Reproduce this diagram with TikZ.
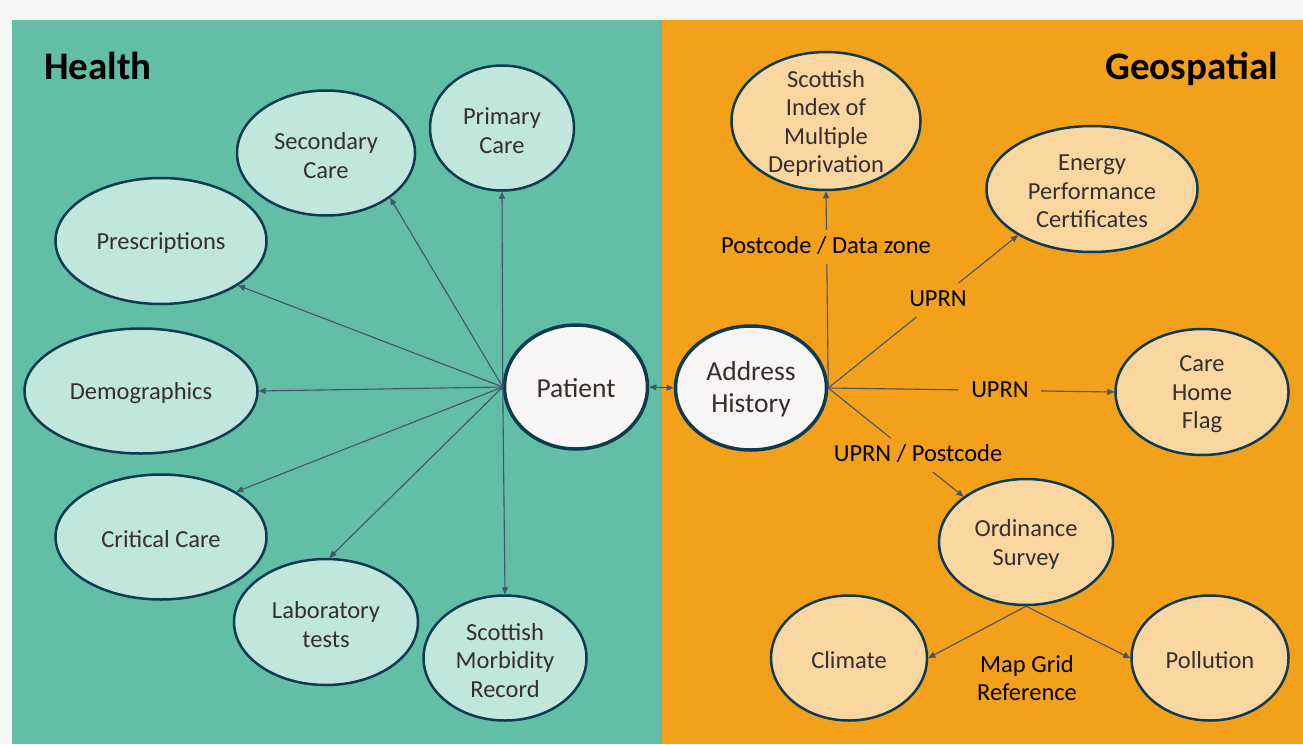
\documentclass[tikz,border=0pt]{standalone}
\usepackage{fontspec}
\setmainfont{Carlito}
\usetikzlibrary{shapes.geometric,arrows.meta}
\definecolor{bgstrip}{HTML}{F7F6F4}
\definecolor{hteal}{HTML}{62BEA5}
\definecolor{gorange}{HTML}{F3A01A}
\definecolor{lteal}{HTML}{C1E6DC}
\definecolor{lorange}{HTML}{FAD7A0}
\definecolor{bord}{HTML}{0E3B50}
\definecolor{pfill}{HTML}{F8F6F4}
\definecolor{edgec}{HTML}{44546A}
\definecolor{ntext}{HTML}{352E2E}
\begin{document}
\begin{tikzpicture}[x=1pt,y=-1pt,
  txt/.style={align=center,text=ntext,yshift=-2.5pt,font=\fontsize{24.5}{28.5}\selectfont},
  bigtxt/.style={align=center,text=ntext,yshift=-1.5pt,font=\fontsize{27.5}{32}\selectfont},
  leafG/.style={ellipse,draw=bord,line width=2.5pt,fill=lteal,inner sep=0pt},
  leafO/.style={ellipse,draw=bord,line width=2.5pt,fill=lorange,inner sep=0pt},
  hub/.style={ellipse,draw=bord,line width=3.5pt,fill=pfill,inner sep=0pt},
  arr/.style={draw=edgec,line width=1.1pt,-{Triangle[length=7pt,width=6pt]}},
  lbl/.style={fill=gorange,text=black,inner xsep=12pt,inner ysep=7pt,text height=16pt,text depth=4pt,font=\fontsize{24.5}{28.5}\selectfont},
  title/.style={font=\fontsize{39}{44}\selectfont\bfseries,text=black,inner sep=0pt}]
\useasboundingbox (0,0) rectangle (1303,744);
\fill[bgstrip] (0,0) rectangle (1303,744);
\fill[hteal] (12,20) rectangle (662,744);
\fill[gorange] (662,20) rectangle (1303,744);

\node[title,anchor=base west] (th) at (44,79) {Health};
\node[title,anchor=base east] (tg) at (1278,79) {Geospatial};

% health side
\node[leafG,minimum width=144pt,minimum height=125pt,label={[txt]center:{Primary\\Care}}] (pri) at (502,128) {};
\node[leafG,minimum width=178pt,minimum height=125pt,label={[txt]center:{Secondary\\Care}}] (sec) at (326,153) {};
\node[leafG,minimum width=211pt,minimum height=126pt,label={[txt]center:{Prescriptions}}] (pres) at (161,241) {};
\node[leafG,minimum width=233pt,minimum height=125pt,label={[txt]center:{Demographics}}] (demo) at (141,391) {};
\node[leafG,minimum width=211pt,minimum height=125pt,label={[txt]center:{Critical Care}}] (crit) at (161,537) {};
\node[leafG,minimum width=184pt,minimum height=126pt,label={[txt]center:{Laboratory\\tests}}] (lab) at (326,622) {};
\node[leafG,minimum width=163pt,minimum height=125pt,label={[txt]center:{Scottish\\Morbidity\\Record}}] (smr) at (505,658) {};

\node[hub,minimum width=143pt,minimum height=124pt,label={[bigtxt]center:{Patient}}] (pat) at (576,387) {};
\node[hub,minimum width=151pt,minimum height=124pt,label={[bigtxt]center:{Address\\History}}] (ah) at (751,388) {};

% geospatial side
\node[leafO,minimum width=189pt,minimum height=138pt,label={[txt]center:{Scottish\\Index of\\Multiple\\Deprivation}}] (simd) at (826,121) {};
\node[leafO,minimum width=211pt,minimum height=126pt,label={[txt]center:{Energy\\Performance\\Certificates}}] (epc) at (1092,189) {};
\node[leafO,minimum width=173pt,minimum height=126pt,label={[txt]center:{Care\\Home\\Flag}}] (chf) at (1202,392) {};
\node[leafO,minimum width=174pt,minimum height=126pt,label={[txt]center:{Ordinance\\Survey}}] (os) at (1026,542) {};
\node[leafO,minimum width=156pt,minimum height=125pt,label={[txt]center:{Climate}}] (clim) at (849,658) {};
\node[leafO,minimum width=157pt,minimum height=125pt,label={[txt]center:{Pollution}}] (poll) at (1210,658) {};

% edges health
\draw[arr] (pat.west) -- (pri.south);
\draw[arr] (pat.west) -- (sec.-35);
\draw[arr] (pat.west) -- (pres.-30);
\draw[arr] (pat.west) -- (demo.east);
\draw[arr] (pat.west) -- (crit.31);
\draw[arr] (pat.west) -- (lab.87);
\draw[arr] (pat.west) -- (smr.north);
\draw[arr,{Triangle[length=7pt,width=6pt]}-{Triangle[length=7pt,width=6pt]}] (pat.east) -- (ah.west);

% edges geospatial
\draw[arr] (ah.east) -- (simd.south);
\draw[arr] (ah.east) -- (epc.-148);
\draw[arr] (ah.east) -- (chf.west);
\draw[arr] (ah.east) -- (os.144);
\draw[arr] (os.south) -- (clim.east);
\draw[arr] (os.south) -- (poll.west);

% edge labels
\node[lbl] (l1) at (826,247) {Postcode / Data zone};
\node[lbl] (l2) at (938,300) {UPRN};
\node[lbl] (l3) at (1000,391) {UPRN};
\node[lbl] (l4) at (918,455) {UPRN / Postcode};
\node[align=center,text=black,font=\fontsize{24.5}{27.5}\selectfont] (l5) at (1027,678) {Map Grid\\Reference};
\end{tikzpicture}
\end{document}
